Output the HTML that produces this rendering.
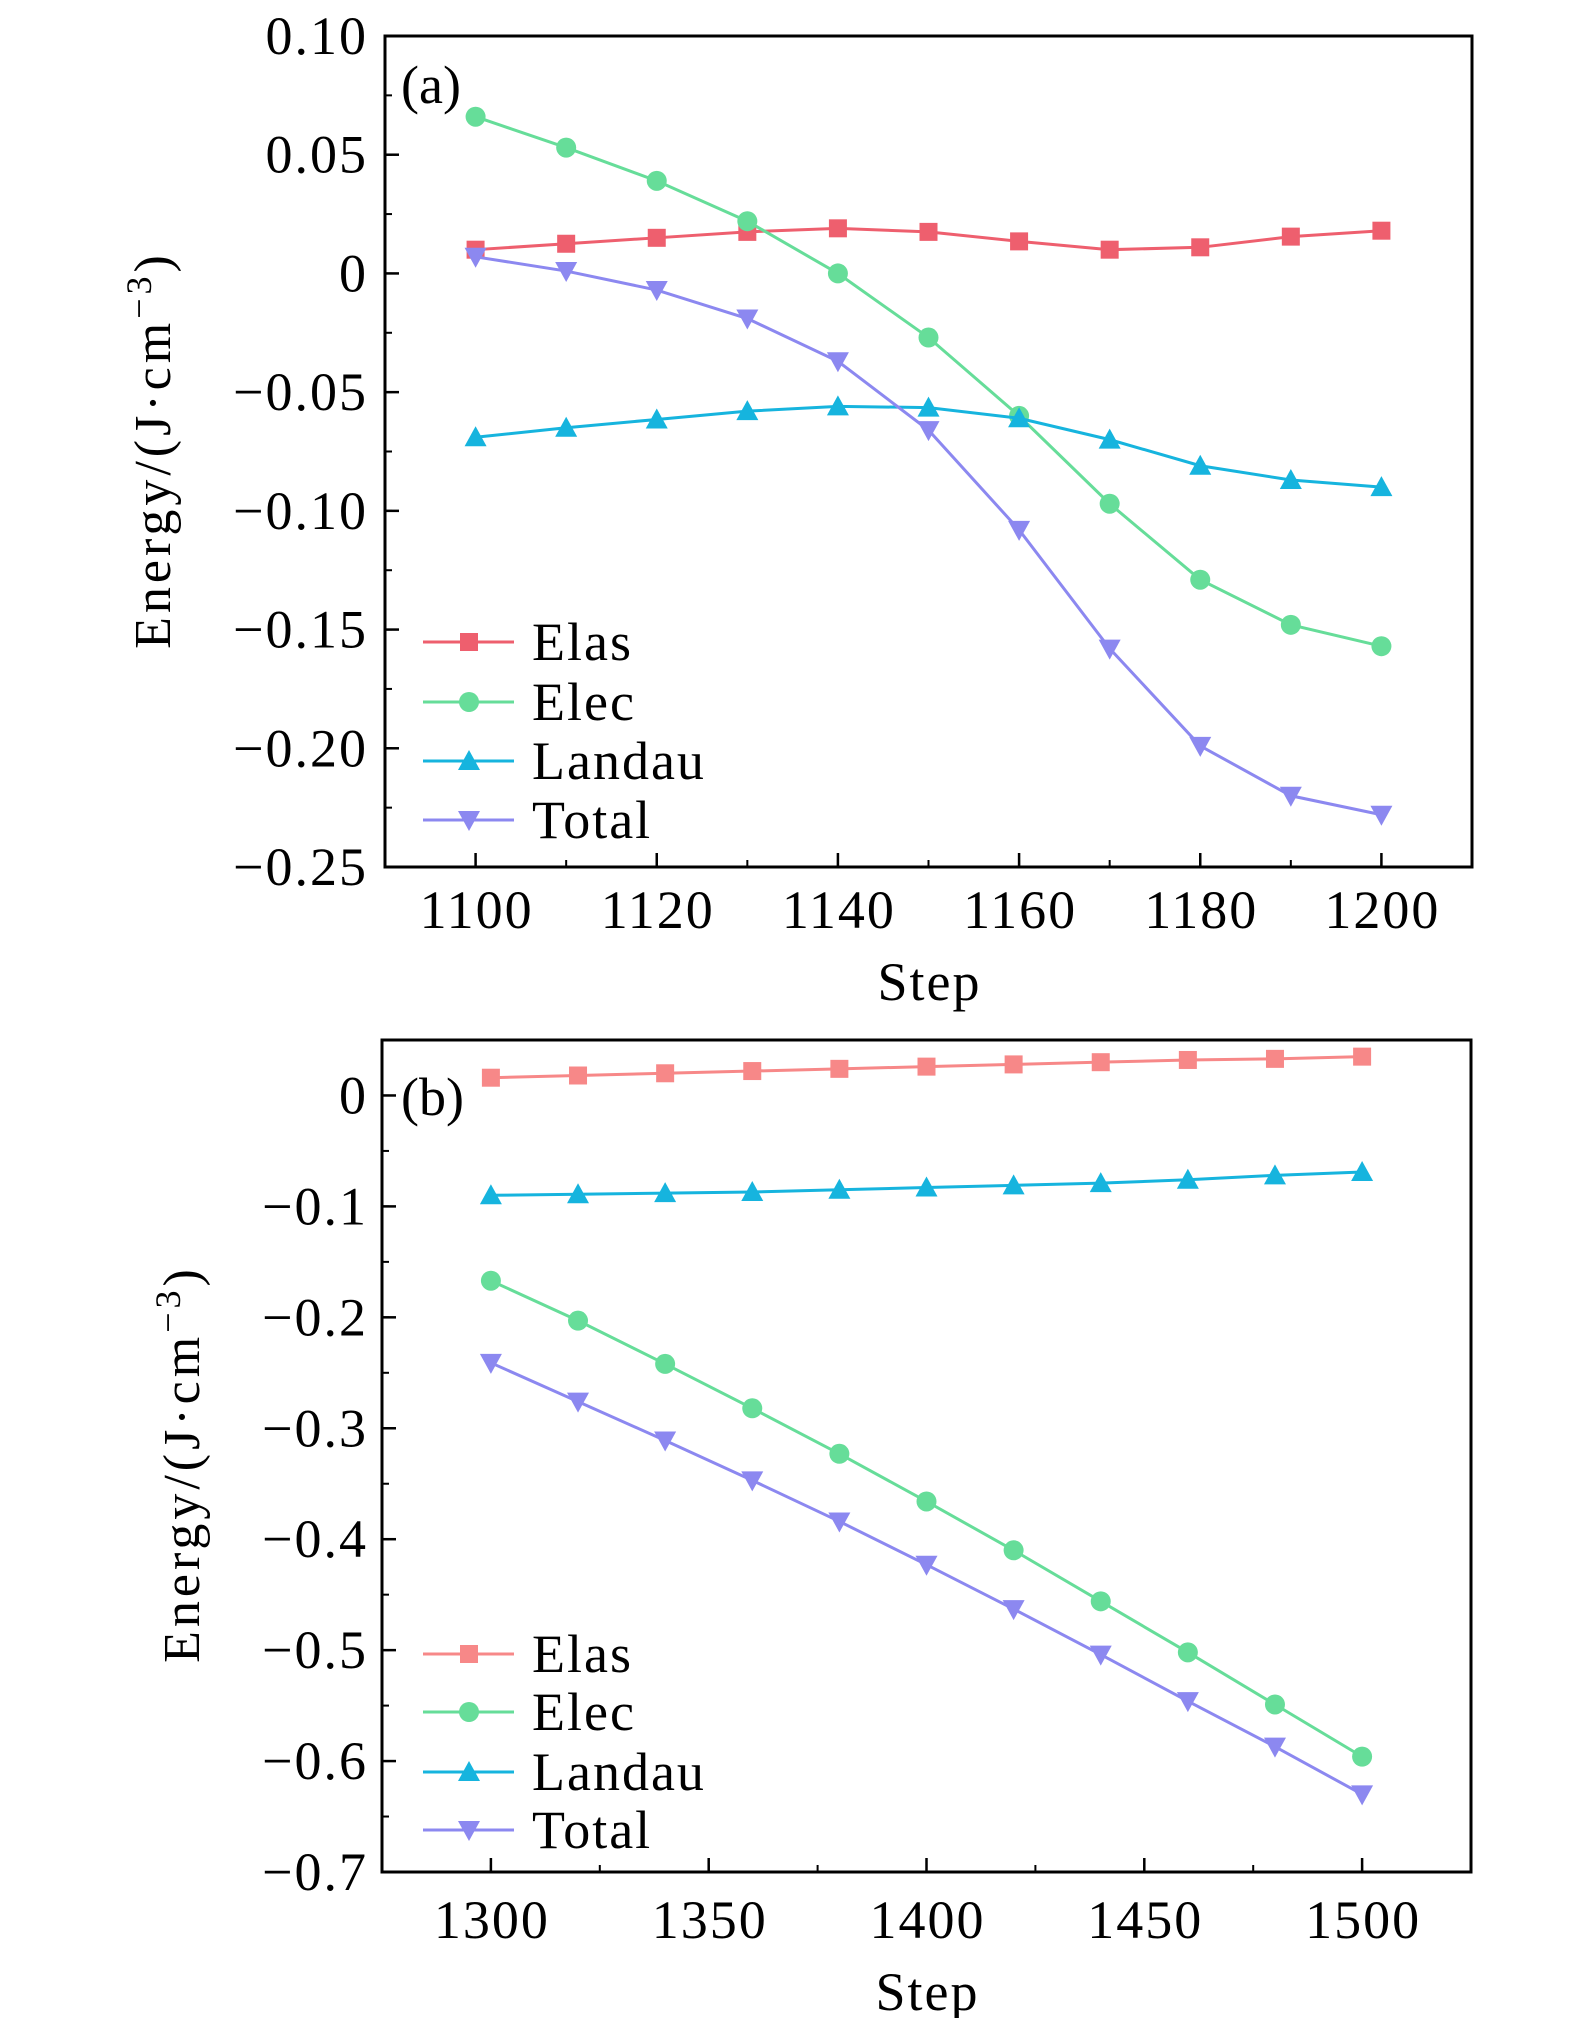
<!DOCTYPE html>
<html><head><meta charset="utf-8"><style>
html,body{margin:0;padding:0;background:#fff}
svg{display:block}
text{font-family:"Liberation Serif",serif;fill:#000}
</style></head><body>
<svg id="svg" width="1575" height="2018" viewBox="0 0 1575 2018" xmlns="http://www.w3.org/2000/svg"></svg>
<script>
const seriesNames = ["Elas","Elec","Landau","Total"];
const stepsA = [1100,1110,1120,1130,1140,1150,1160,1170,1180,1190,1200];
const elasA = [0.010,0.0125,0.015,0.0175,0.019,0.0175,0.0135,0.010,0.011,0.0155,0.018];
const elecA = [0.066,0.053,0.039,0.022,0.0,-0.027,-0.060,-0.097,-0.129,-0.148,-0.157];
const landauA = [-0.069,-0.065,-0.0615,-0.058,-0.056,-0.0565,-0.061,-0.070,-0.081,-0.087,-0.090];
const totalA = [0.007,0.001,-0.007,-0.019,-0.037,-0.066,-0.108,-0.158,-0.199,-0.220,-0.228];
const xTicksA = [1100,1120,1140,1160,1180,1200];
const yTicksA = [0.10,0.05,0,-0.05,-0.10,-0.15,-0.20,-0.25];
const yTickLabelsA = ["0.10","0.05","0","\u22120.05","\u22120.10","\u22120.15","\u22120.20","\u22120.25"];

const stepsB = [1300,1320,1340,1360,1380,1400,1420,1440,1460,1480,1500];
const elasB = [0.016,0.018,0.020,0.022,0.024,0.026,0.028,0.030,0.032,0.033,0.035];
const elecB = [-0.167,-0.203,-0.242,-0.282,-0.323,-0.366,-0.410,-0.456,-0.502,-0.549,-0.596];
const landauB = [-0.090,-0.089,-0.088,-0.087,-0.085,-0.083,-0.081,-0.079,-0.076,-0.072,-0.069];
const totalB = [-0.241,-0.276,-0.311,-0.347,-0.384,-0.423,-0.463,-0.504,-0.546,-0.587,-0.630];
const xTicksB = [1300,1350,1400,1450,1500];
const yTicksB = [0,-0.1,-0.2,-0.3,-0.4,-0.5,-0.6,-0.7];
const yTickLabelsB = ["0","\u22120.1","\u22120.2","\u22120.3","\u22120.4","\u22120.5","\u22120.6","\u22120.7"];

const NS="http://www.w3.org/2000/svg";
const svg=document.getElementById('svg');
function mk(tag,attrs,parent){const e=document.createElementNS(NS,tag);for(const k in attrs)e.setAttribute(k,attrs[k]);(parent||svg).appendChild(e);return e;}

function marker(g,shape,cx,cy,color){
  let e;
  if(shape==='sq'){e=mk('rect',{x:cx-9,y:cy-9,width:18,height:18,fill:color},g);}
  else if(shape==='ci'){e=mk('circle',{cx:cx,cy:cy,r:10,fill:color},g);}
  else if(shape==='up'){e=mk('polygon',{points:`${cx},${cy-11} ${cx+11},${cy+9} ${cx-11},${cy+9}`,fill:color},g);}
  else {e=mk('polygon',{points:`${cx},${cy+11} ${cx+11},${cy-9} ${cx-11},${cy-9}`,fill:color},g);}
  return e;
}
const FS=54, LS=2;

function panel(cfg){
  const g=mk('g',{});
  
  
  const {L,R,T,B,xmin,xmax,ymin,ymax}=cfg;
  const sx=v=>L+(v-xmin)/(xmax-xmin)*(R-L);
  const sy=v=>B-(v-ymin)/(ymax-ymin)*(B-T);
  cfg.yTicks.forEach((v,i)=>{
    const y=sy(v);
    mk('line',{x1:L,x2:L+14,y1:y,y2:y,stroke:'#000','stroke-width':2.5},g);
    const t=mk('text',{x:368,y:y+18,'text-anchor':'end','font-size':FS,'letter-spacing':LS},g);
    t.textContent=cfg.yLabels[i];
    
    
  });
  for(let v=cfg.yTicks[cfg.yTicks.length-1];v<=ymax+1e-9;v+=cfg.yMinor){
    const y=sy(v);mk('line',{x1:L,x2:L+7,y1:y,y2:y,stroke:'#000','stroke-width':2},g);
  }
  cfg.xTicks.forEach(v=>{
    const x=sx(v);
    mk('line',{x1:x,x2:x,y1:B,y2:B-14,stroke:'#000','stroke-width':2.5},g);
    const t=mk('text',{x:x+LS/2,y:cfg.xLabelY,'text-anchor':'middle','font-size':FS,'letter-spacing':LS},g);
    t.textContent=String(v);
    
    
  });
  for(let v=cfg.xTicks[0];v<=xmax;v+=cfg.xMinor){
    const x=sx(v);mk('line',{x1:x,x2:x,y1:B,y2:B-7,stroke:'#000','stroke-width':2},g);
  }
  const shapes=['sq','ci','up','dn'];
  cfg.series.forEach((vals,si)=>{
    const sg=mk('g',{},g);
    
    
    const pts=cfg.steps.map((s,i)=>sx(s)+','+sy(vals[i])).join(' ');
    mk('polyline',{points:pts,fill:'none',stroke:cfg.colors[si],'stroke-width':3},sg);
    cfg.steps.forEach((s,i)=>{
      const m=marker(sg,shapes[si],sx(s),sy(vals[i]),cfg.colors[si]);
      
      
    });
    const ly=cfg.legendY[si];
    const lg=mk('g',{},g);
    
    
    mk('line',{x1:423,x2:514,y1:ly,y2:ly,stroke:cfg.colors[si],'stroke-width':3},lg);
    marker(lg,shapes[si],469,ly,cfg.colors[si]);
    const t=mk('text',{x:532,y:ly+18,'font-size':FS,'letter-spacing':LS},lg);
    t.textContent=seriesNames[si];
  });
  const fr=mk('rect',{x:L,y:T,width:R-L,height:B-T,fill:'none',stroke:'#000','stroke-width':3},g);
  
  
  const pl=mk('text',{x:401,y:cfg.labelY,'font-size':FS},g);
  pl.textContent=cfg.label;
  
  
  const xt=mk('text',{x:(L+R)/2+LS/2,y:cfg.stepY,'text-anchor':'middle','font-size':FS,'letter-spacing':LS},g);
  xt.textContent='Step';
  
  
  const yt=mk('text',{x:0,y:0,'text-anchor':'middle','font-size':52,'letter-spacing':4,transform:`translate(${cfg.yTitleX},${cfg.yTitleY}) rotate(-90)`},g);
  yt.innerHTML='Energy/(J\u00b7cm<tspan dy="-19" font-size="36">\u22123</tspan><tspan dy="19">)</tspan>';
  
  
}

panel({name:'panel-a',L:385,R:1472,T:36,B:867,xmin:1090,xmax:1210,ymin:-0.25,ymax:0.10,
  steps:stepsA,series:[elasA,elecA,landauA,totalA],colors:['#ee5f6e','#66dd99','#16b4de','#8c88f0'],
  xTicks:xTicksA,yTicks:yTicksA,yLabels:yTickLabelsA,yMinor:0.025,xMinor:10,
  xLabelY:928,stepY:1000,legendY:[642,702,761,820],label:'(a)',labelY:103,yTitleX:170,yTitleY:450});
panel({name:'panel-b',L:382,R:1471,T:1040,B:1872,xmin:1275,xmax:1525,ymin:-0.7,ymax:0.05,
  steps:stepsB,series:[elasB,elecB,landauB,totalB],colors:['#f78888','#66dd99','#16b4de','#8c88f0'],
  xTicks:xTicksB,yTicks:yTicksB,yLabels:yTickLabelsB,yMinor:0.05,xMinor:25,
  xLabelY:1938,stepY:2010,legendY:[1654,1712,1772,1830],label:'(b)',labelY:1115,yTitleX:199,yTitleY:1464});
</script>
</body></html>
